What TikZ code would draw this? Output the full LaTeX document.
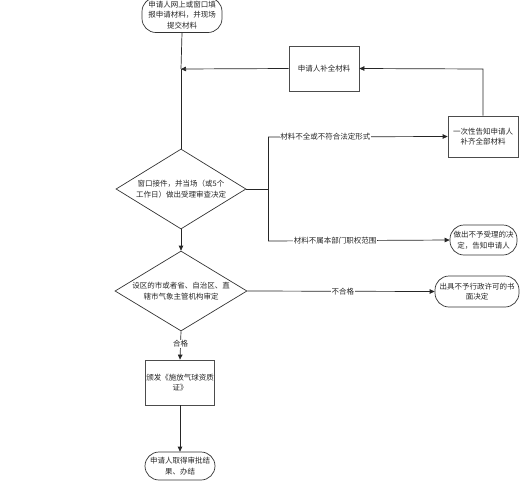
\documentclass[tikz,border=0pt]{standalone}
\usepackage{fontspec}
\setmainfont{Noto Sans CJK SC}
\usetikzlibrary{arrows.meta,shapes.geometric}
\begin{document}
\begin{tikzpicture}[x=1pt,y=-1pt,
  every node/.style={font=\fontsize{7.5}{10.5}\selectfont, text=black!85, align=center},
  line/.style={draw=black!85, line width=0.7pt},
  arr/.style={line, -{Triangle[length=5pt,width=4.5pt]}},
  box/.style={draw=black!70, line width=0.7pt, fill=white, inner sep=1pt},
  term/.style={draw=black!80, line width=0.7pt, fill=white, inner sep=1pt, rounded corners=14pt},
  dia/.style={draw=black!80, line width=0.7pt, diamond, inner sep=0pt},
  lab/.style={fill=white, inner sep=0.5pt}]
\useasboundingbox (0,0) rectangle (525,488);
\node[term, minimum width=80pt, minimum height=35pt] (t1) at (182,15) {申请人网上或窗口填\\报申请材料，并现场\\提交材料};
\node[box, minimum width=70pt, minimum height=45pt] (b1) at (324,68.5) {申请人补全材料};
\node[box, minimum width=70pt, minimum height=41pt] (b2) at (483,136.5) {一次性告知申请人\\补齐全部材料};
\node[dia, minimum width=130pt, minimum height=80pt, label={[align=center]center:窗口接件，并当场（或5个\\工作日）做出受理审查决定}] (d1) at (181,189) {};
\node[term, minimum width=67pt, minimum height=30pt] (t2) at (483.5,240) {做出不予受理的决\\定，告知申请人};
\node[dia, minimum width=132pt, minimum height=80pt, label={[align=center]center:设区的市或者省、自治区、直\\辖市气象主管机构审定}] (d2) at (181,291) {};
\node[term, minimum width=84pt, minimum height=31pt] (t3) at (477,291.5) {出具不予行政许可的书\\面决定};
\node[box, minimum width=67pt, minimum height=45pt] (b3) at (180,382.5) {颁发《施放气球资质\\证》};
\node[term, minimum width=70pt, minimum height=28pt] (t4) at (180,466) {申请人取得审批结\\果、办结};
\coordinate (j1) at (181,69);
\coordinate (br) at (268,189);
\coordinate (bu) at (268,137);
\coordinate (bd) at (268,241);
\coordinate (tp) at (483,69);
% flows
\draw[line] (t1.south) -- (j1);
\draw[line] (j1) -- (d1.north);
\draw[arr] (b1.west) -- (j1);
\draw[arr] (b2.north) -- (tp) -- (b1.east);
\draw[line] (d1.east) -- (br);
\draw[line] (bu) -- (bd);
\draw[arr] (bu) -- node[lab, pos=0.32] {材料不全或不符合法定形式} (b2.west);
\draw[arr] (bd) -- node[lab, pos=0.37] {材料不属本部门职权范围} (t2.west);
\draw[arr] (d1.south) -- (d2.north);
\draw[arr] (d2.east) -- node[lab, pos=0.51] {不合格} (t3.west);
\draw[arr] (d2.south) -- node[lab, pos=0.45] {合格} (b3.north);
\draw[arr] (b3.south) -- (t4.north);
\end{tikzpicture}
\end{document}
